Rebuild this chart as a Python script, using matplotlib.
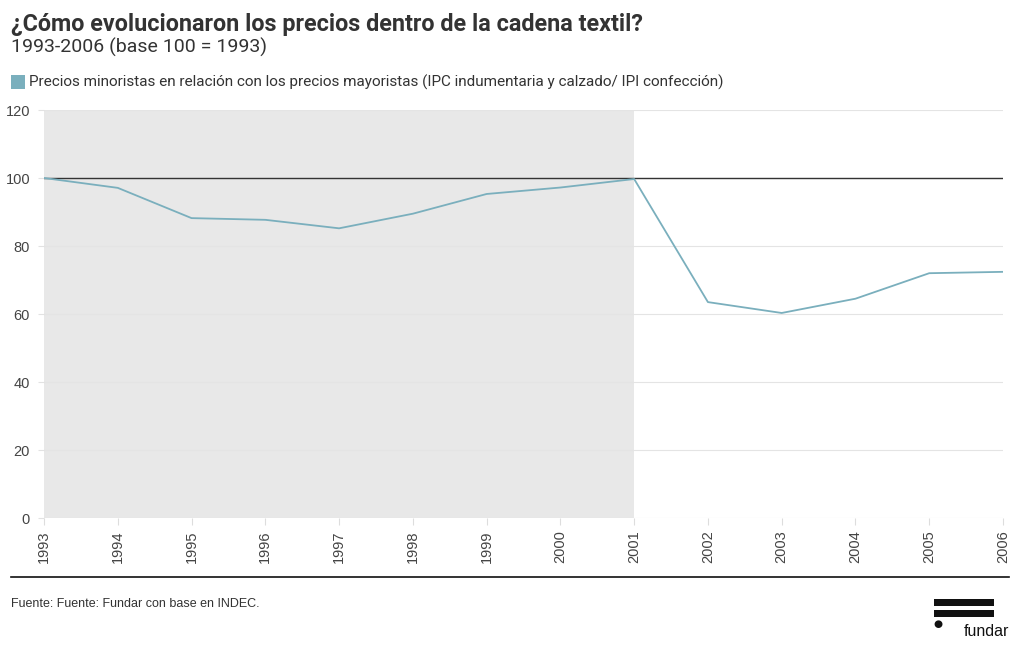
import matplotlib
matplotlib.use("Agg")
import matplotlib.pyplot as plt
from matplotlib.patches import Rectangle

years = [1993, 1994, 1995, 1996, 1997, 1998, 1999, 2000, 2001, 2002, 2003, 2004, 2005, 2006]
values = [100.0, 97.1, 88.2, 87.7, 85.2, 89.5, 95.3, 97.2, 99.7, 63.5, 60.3, 64.5, 72.0, 72.4]
y_ticks = [0, 20, 40, 60, 80, 100, 120]
shade_start, shade_end = 1993, 2001
reference_level = 100

title = "¿Cómo evolucionaron los precios dentro de la cadena textil?"
subtitle = "1993-2006 (base 100 = 1993)"
legend_label = "Precios minoristas en relación con los precios mayoristas (IPC indumentaria y calzado/ IPI confección)"
source = "Fuente: Fuente: Fundar con base en INDEC."

line_color = "#7aafbd"
text_color = "#333333"
plt.rcParams['font.family'] = ['Roboto', 'DejaVu Sans']

W, H = 1020, 650
fig = plt.figure(figsize=(W / 100, H / 100), dpi=100)
ax = fig.add_axes([44 / W, 1 - 518 / H, (1003 - 44) / W, (518 - 110) / H])

ax.axvspan(shade_start, shade_end, color="#e8e8e8", zorder=0, lw=0)
for t in y_ticks:
    ax.axhline(t, color="#e4e4e4", lw=0.8, zorder=1)
ax.axhline(reference_level, color="#333333", lw=1.0, zorder=2)
ax.plot(years, values, color=line_color, lw=1.3, zorder=3)

ax.set_xlim(years[0], years[-1])
ax.set_ylim(0, 120)
ax.set_yticks(y_ticks)
ax.set_xticks(years)
ax.set_xticklabels([str(y) for y in years], rotation=90, family="Liberation Sans")
ax.set_yticklabels([str(t) for t in y_ticks], family="Liberation Sans")
for s in ax.spines.values():
    s.set_visible(False)
ax.tick_params(axis="y", length=4, color="#e2e2e2", labelsize=10.5, labelcolor="#444444", pad=6)
ax.tick_params(axis="x", length=5, color="#dddddd", labelsize=10.5, labelcolor="#444444", pad=4)

fig.text(11 / W, 1 - 24 / H, title, fontsize=16.8, fontweight="bold", color=text_color, va="center", ha="left")
fig.text(11 / W, 1 - 47 / H, subtitle, fontsize=14, color=text_color, va="center", ha="left")
fig.patches.append(Rectangle((11 / W, 1 - 89 / H), 14 / W, 14 / H, transform=fig.transFigure,
                             facecolor=line_color, edgecolor="none"))
fig.text(29 / W, 1 - 82 / H, legend_label, fontsize=11, color=text_color, va="center", ha="left")

fig.add_artist(plt.Line2D([11 / W, 1009 / W], [1 - 577 / H, 1 - 577 / H], color="#111111", lw=1.2,
                          transform=fig.transFigure))
fig.text(11 / W, 1 - 604 / H, source, fontsize=9, color=text_color, va="center", ha="left",
         family="Liberation Sans")

# logo
fig.patches.append(Rectangle((934 / W, 1 - 606 / H), 60 / W, 7 / H, transform=fig.transFigure,
                             facecolor="#111111", edgecolor="none"))
fig.patches.append(Rectangle((934 / W, 1 - 617 / H), 60 / W, 7 / H, transform=fig.transFigure,
                             facecolor="#111111", edgecolor="none"))
fig.text(938 / W, 1 - 624 / H, "●", fontsize=7.5, color="#111111", va="center", ha="center",
         family="DejaVu Sans")
fig.text(1009 / W, 1 - 631 / H, "fundar", fontsize=11.5, color="#111111", va="center", ha="right",
         family="Liberation Sans")

fig.savefig("out.png", dpi=100)
